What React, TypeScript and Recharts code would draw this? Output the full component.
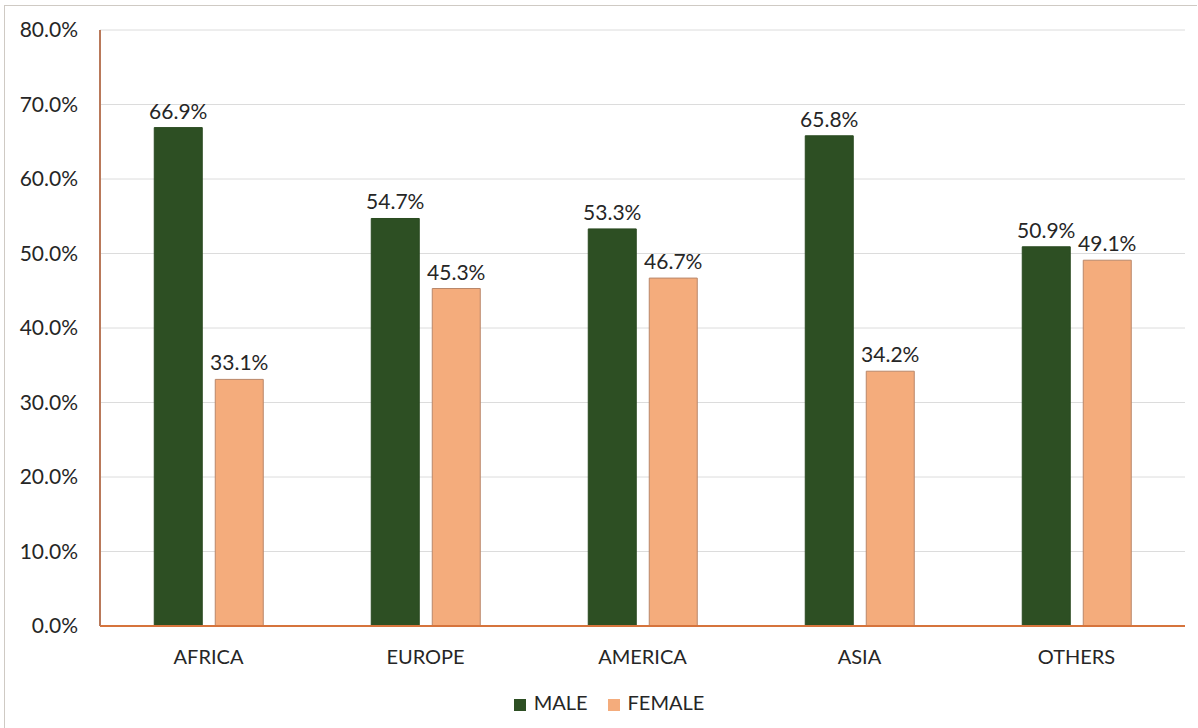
import { Bar, BarChart, CartesianGrid, LabelList, Legend, XAxis, YAxis } from "recharts";

const regions = ["AFRICA", "EUROPE", "AMERICA", "ASIA", "OTHERS"];
const male = [66.9, 54.7, 53.3, 65.8, 50.9];
const female = [33.1, 45.3, 46.7, 34.2, 49.1];
const yTicks = [0, 10, 20, 30, 40, 50, 60, 70, 80];

const data = regions.map((region, i) => ({ region, male: male[i], female: female[i] }));

const font = "Lato, 'Open Sans', sans-serif";
const pct = (v: unknown) => `${Number(v).toFixed(1)}%`;
const legendOrder = ["MALE", "FEMALE"];

export default function App() {
  return (
    <div
      style={{
        position: "absolute",
        left: 0,
        top: 0,
        width: 1198,
        height: 728,
        background: "#fff",
        fontFamily: font,
        overflow: "hidden"
      }}
    >
      <div
        style={{
          position: "absolute",
          left: 4,
          top: 5,
          width: 1192,
          height: 730,
          borderLeft: "1px solid #cfcac4",
          borderTop: "1px solid #cfcac4"
        }}
      />
      <BarChart
        width={1198}
        height={728}
        data={data}
        margin={{ top: 30, right: 13, left: 0, bottom: 9 }}
        barCategoryGap="25%"
        barGap={13}
      >
        <CartesianGrid stroke="#dcdcdc" vertical={false} />
        <XAxis
          dataKey="region"
          height={59}
          tickSize={0}
          tickMargin={24}
          axisLine={{ stroke: "#d6743c", strokeWidth: 2 }}
          tick={{ fontSize: 20, fill: "#262626", fontFamily: font }}
        />
        <YAxis
          width={100}
          domain={[0, 80]}
          ticks={yTicks}
          tickSize={0}
          tickMargin={22}
          tickFormatter={pct}
          axisLine={{ stroke: "#b9795a", strokeWidth: 2 }}
          tick={{ fontSize: 21, fill: "#262626", fontFamily: font }}
        />
        <Legend
          verticalAlign="bottom"
          iconType="square"
          iconSize={12}
          itemSorter={(item: any) => legendOrder.indexOf(String(item.value))}
          wrapperStyle={{ fontSize: 20, height: 34, lineHeight: "34px", left: 20, width: 1198 }}
          formatter={(value) => (
            <span style={{ color: "#262626", paddingLeft: 4, paddingRight: 10 }}>{value}</span>
          )}
        />
        <Bar dataKey="male" name="MALE" fill="#2d4f23" stroke="#2a4a20" isAnimationActive={false}>
          <LabelList dataKey="male" position="top" offset={9} formatter={pct} style={{ fontSize: 21, fill: "#262626", fontFamily: font }} />
        </Bar>
        <Bar dataKey="female" name="FEMALE" fill="#f4ac7c" stroke="#b9876a" isAnimationActive={false}>
          <LabelList dataKey="female" position="top" offset={9} formatter={pct} style={{ fontSize: 21, fill: "#262626", fontFamily: font }} />
        </Bar>
      </BarChart>
    </div>
  );
}
